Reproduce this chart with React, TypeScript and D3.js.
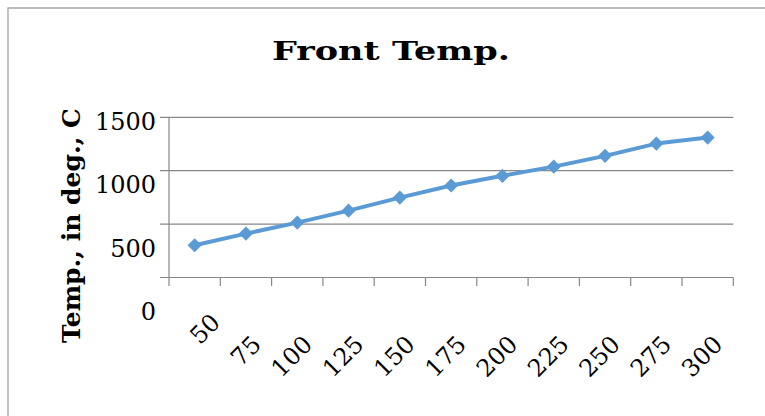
import React from "react";
import * as d3 from "d3";

// Front temperature readings per setting
const categories: string[] = ["50", "75", "100", "125", "150", "175", "200", "225", "250", "275", "300"];
const temps: number[] = [302, 411, 514, 626, 748, 861, 952, 1038, 1139, 1254, 1310];
const yTicks: number[] = [0, 500, 1000, 1500];
const title = "Front Temp.";
const yTitle = "Temp., in deg., C";

const W = 765;
const H = 416;
const SERIES = "#5B9BD5";
const GRID = "#878787";
const FONT = "'DejaVu Serif', serif";

export default function App() {
  const plotLeft = 169;
  const plotRight = 733.3;
  const plotTop = 117.3;
  const plotBottom = 277.5;

  const x = d3.scaleBand<string>().domain(categories).range([plotLeft, plotRight]).padding(0);
  const y = d3.scaleLinear().domain([0, 1500]).range([plotBottom, plotTop]);
  // tick labels sit on their own, slightly wider-spaced baseline scale
  const yLabel = d3.scaleLinear().domain([0, 1500]).range([320, 129.7]);

  const cx = (c: string) => (x(c) ?? 0) + x.bandwidth() / 2;

  const line = d3
    .line<number>()
    .x((_, i) => cx(categories[i]))
    .y((d) => y(d));

  const marker = d3.symbol().type(d3.symbolSquare).size(100)() ?? "";

  const boundaries = [...categories.map((c) => x(c) ?? 0), plotRight];

  return (
    <svg
      width={W}
      height={H}
      viewBox={`0 0 ${W} ${H}`}
      style={{ position: "absolute", left: 0, top: 0, background: "#fff" }}
    >
      <rect x={0} y={0} width={W} height={H} fill="#fff" />
      {/* chart frame */}
      <path d={`M8,${H + 5} V8 H${W + 5}`} fill="none" stroke="#a5a5a5" strokeWidth={1.3} />

      <text
        x={391}
        y={60}
        textAnchor="middle"
        fontFamily={FONT}
        fontWeight="bold"
        fontSize={26}
        textLength={238}
        lengthAdjust="spacingAndGlyphs"
        fill="#000"
      >
        {title}
      </text>

      {/* gridlines */}
      {yTicks
        .filter((t) => t > 0)
        .map((t) => (
          <line key={t} x1={160} x2={plotRight} y1={y(t)} y2={y(t)} stroke={GRID} strokeWidth={1.2} />
        ))}

      {/* axes */}
      <line x1={160} x2={plotRight} y1={plotBottom} y2={plotBottom} stroke={GRID} strokeWidth={1.2} />
      <line x1={plotLeft} x2={plotLeft} y1={plotTop} y2={plotBottom} stroke={GRID} strokeWidth={1.2} />
      {boundaries.map((bx, i) => (
        <line key={i} x1={bx} x2={bx} y1={plotBottom} y2={plotBottom + 8.5} stroke={GRID} strokeWidth={1.2} />
      ))}

      {/* y tick labels */}
      {yTicks.map((t) => (
        <text key={t} x={156} y={yLabel(t)} textAnchor="end" fontFamily={FONT} fontSize={24} fill="#000">
          {t}
        </text>
      ))}

      {/* x tick labels, rotated; the first one is lifted clear of the zero label */}
      {categories.map((c, i) => {
        const lx = i === 0 ? cx(c) + 27 : cx(c) + 16.5;
        const ly = i === 0 ? plotBottom + 46.5 : plotBottom + 68.5;
        return (
          <text
            key={c}
            transform={`translate(${lx},${ly}) rotate(-45)`}
            textAnchor="end"
            fontFamily={FONT}
            fontSize={24}
            fill="#000"
          >
            {c}
          </text>
        );
      })}

      <text
        transform={`translate(80,225.5) rotate(-90)`}
        textAnchor="middle"
        fontFamily={FONT}
        fontWeight="bold"
        fontSize={25}
        textLength={235}
        lengthAdjust="spacingAndGlyphs"
        fill="#000"
      >
        {yTitle}
      </text>

      {/* series */}
      <path d={line(temps) ?? ""} fill="none" stroke={SERIES} strokeWidth={4} strokeLinejoin="round" />
      {temps.map((t, i) => (
        <path
          key={i}
          d={marker}
          transform={`translate(${cx(categories[i])},${y(t)}) rotate(45)`}
          fill={SERIES}
        />
      ))}
    </svg>
  );
}
